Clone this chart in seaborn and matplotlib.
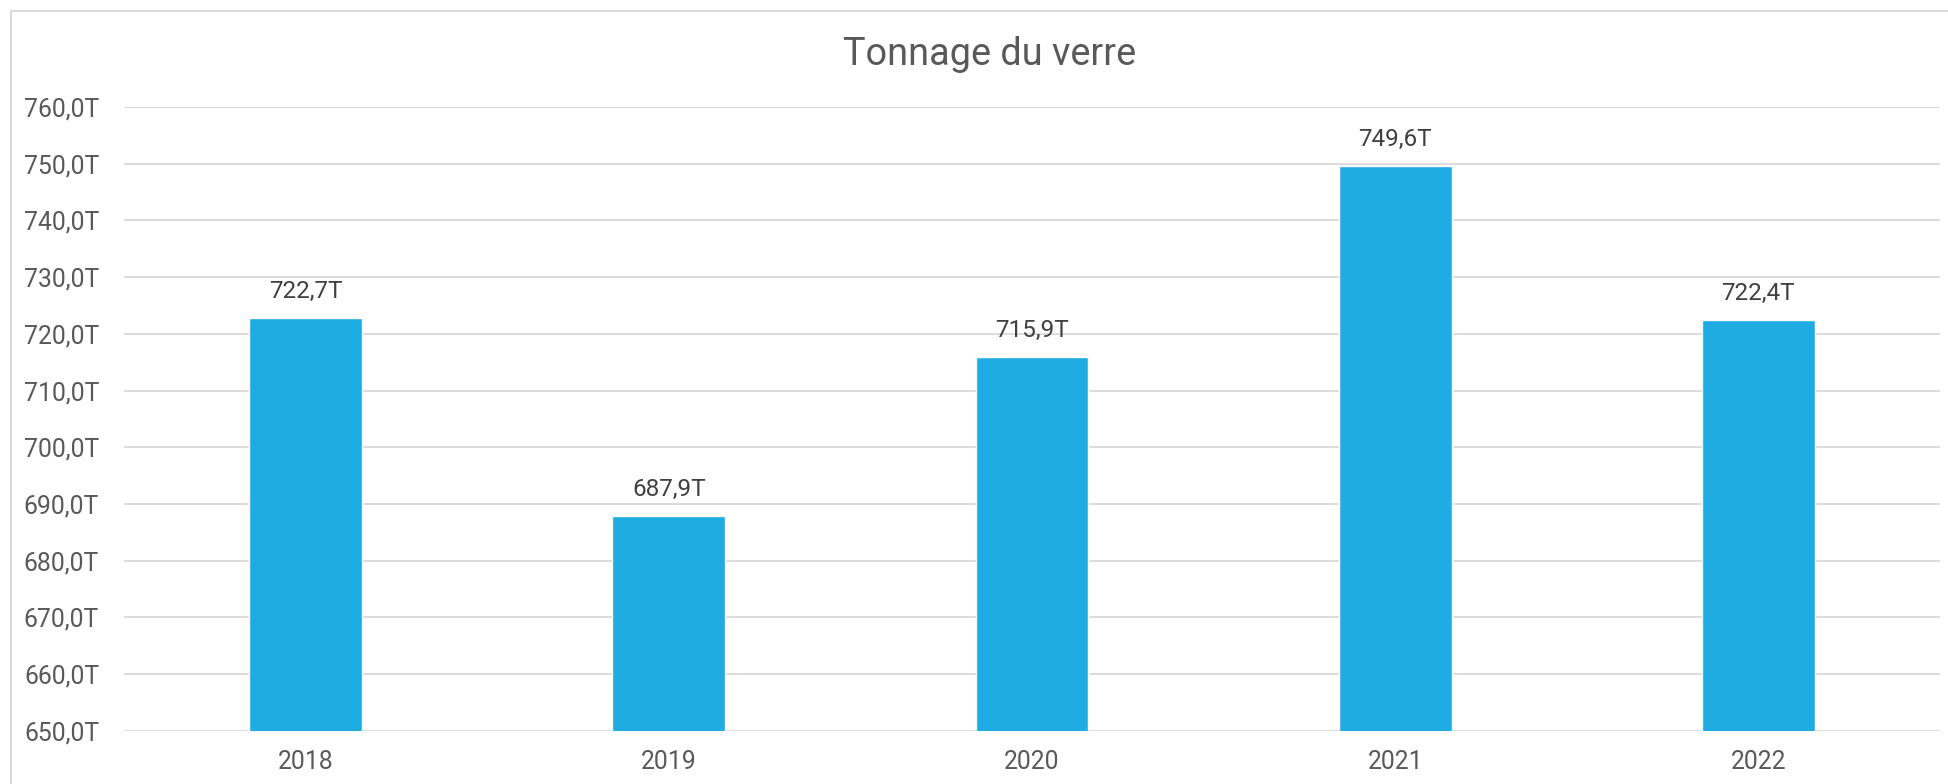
import matplotlib
matplotlib.use("Agg")
import matplotlib.pyplot as plt
import seaborn as sns
import pandas as pd
from matplotlib.patches import Rectangle

years = ["2018", "2019", "2020", "2021", "2022"]
tonnage = [722.7, 687.9, 715.9, 749.6, 722.4]
y_ticks = [650, 660, 670, 680, 690, 700, 710, 720, 730, 740, 750, 760]
title = "Tonnage du verre"

def fr(v):
    return f"{v:.1f}".replace(".", ",") + "T"

sns.set_theme(style="white")
plt.rcParams["font.family"] = ["Roboto", "DejaVu Sans"]

W, H = 1948, 784
fig = plt.figure(figsize=(W / 100, H / 100), dpi=100)
fig.patch.set_facecolor("white")

# outer chart frame (left/top visible, right/bottom cut off)
fig.patches.append(Rectangle((11 / W, -0.05), 1.2, 1 - 11 / H + 0.05,
                             transform=fig.transFigure, fill=False,
                             edgecolor="#D9D9D9", linewidth=1.5, zorder=0))

ax = fig.add_axes([124 / W, 1 - 730.7 / H, (1940 - 124) / W, (730.7 - 107) / H])

df = pd.DataFrame({"year": years, "t": tonnage})
sns.barplot(data=df, x="year", y="t", color="#1EACE3", saturation=1,
            width=0.311, ax=ax, zorder=3)

ax.set_ylim(650, 760)
ax.set_yticks(y_ticks)
ax.set_yticklabels([fr(v) for v in y_ticks])
ax.set_xlim(-0.5, len(years) - 0.5)
ax.yaxis.grid(True, color="#D9D9D9", linewidth=1.3, zorder=0)
ax.xaxis.grid(False)
for s in ax.spines.values():
    s.set_visible(False)
ax.set_xlabel("")
ax.set_ylabel("")
ax.tick_params(axis="y", length=0, pad=18, labelsize=17.8, labelcolor="#595959")
ax.tick_params(axis="x", length=0, pad=14, labelsize=17.8, labelcolor="#595959")

for i, v in enumerate(tonnage):
    ax.annotate(fr(v), (i, v), xytext=(0, 11), textcoords="offset points",
                ha="center", va="bottom", fontsize=17.5, color="#404040", zorder=4)

fig.text(990 / W, 1 - 65 / H, title, ha="center", va="baseline",
         fontsize=27.3, color="#595959")

fig.savefig("out.png", dpi=100, facecolor="white")
